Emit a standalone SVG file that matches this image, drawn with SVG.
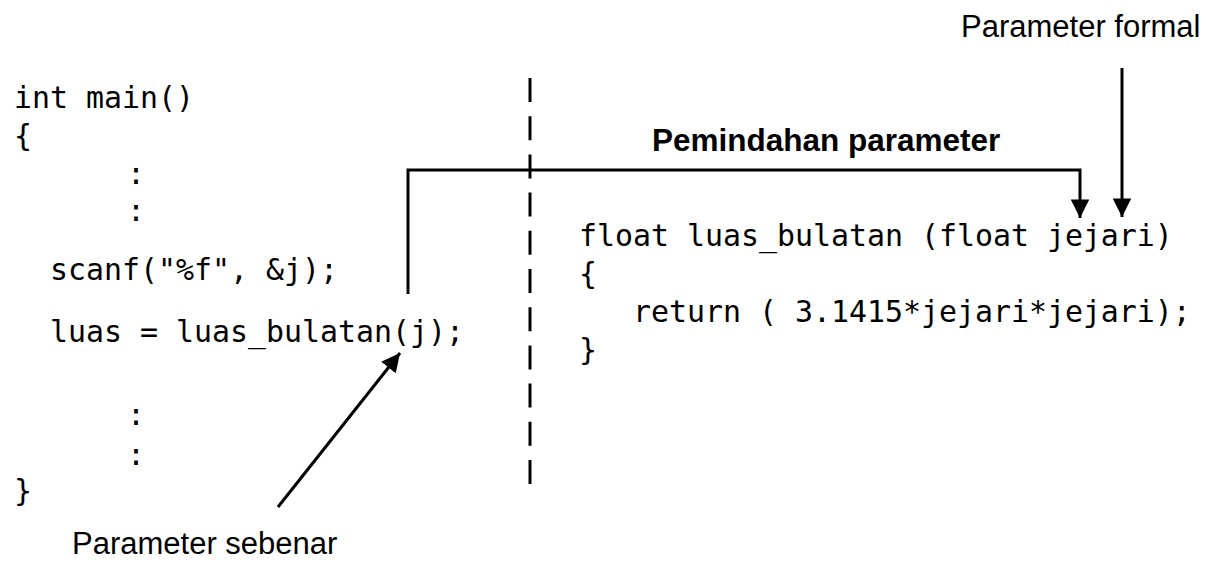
<svg xmlns="http://www.w3.org/2000/svg" width="1207" height="562" viewBox="0 0 1207 562">
  <style>
    .code { font-family: "DejaVu Sans Mono", "Liberation Mono", monospace; font-size: 29.9px; fill: #000; white-space: pre; }
    .label { font-family: "Liberation Sans", Arial, sans-serif; font-size: 31px; fill: #000; }
    .bold { font-weight: bold; font-size: 31.5px; }
    .wire { fill: none; stroke: #000; stroke-width: 3; }
    .divider { fill: none; stroke: #000; stroke-width: 3; stroke-dasharray: 24 14.2; }
  </style>
  <defs>
    <marker id="head" viewBox="0 0 10 10" refX="10" refY="5" markerWidth="6.2" markerHeight="6.2" markerUnits="strokeWidth" orient="auto">
      <path d="M0,0 L10,5 L0,10 Z" fill="#000"/>
    </marker>
  </defs>

  <!-- caller: main() -->
  <g id="main-func">
    <text class="code" x="14" y="108">int main()</text>
    <text class="code" x="14" y="146">{</text>
    <text class="code" x="127" y="184">:</text>
    <text class="code" x="127" y="221">:</text>
    <text class="code" x="14" y="280">  scanf("%f", &amp;j);</text>
    <text class="code" x="14" y="342">  luas = luas_bulatan(j);</text>
    <text class="code" x="127" y="425">:</text>
    <text class="code" x="127" y="465">:</text>
    <text class="code" x="14" y="501">}</text>
  </g>

  <!-- callee: luas_bulatan() -->
  <g id="luas-bulatan-func">
    <text class="code" x="579" y="246">float luas_bulatan (float jejari)</text>
    <text class="code" x="579" y="284">{</text>
    <text class="code" x="579" y="322">   return ( 3.1415*jejari*jejari);</text>
    <text class="code" x="579" y="360">}</text>
  </g>

  <!-- labels -->
  <g id="label-transfer">
    <text class="label bold" x="652" y="151">Pemindahan parameter</text>
  </g>
  <g id="label-formal">
    <text class="label" x="961" y="37">Parameter formal</text>
  </g>
  <g id="label-actual">
    <text class="label" x="72" y="554">Parameter sebenar</text>
  </g>

  <!-- divider between caller and callee -->
  <g id="divider">
    <line class="divider" x1="530" y1="78" x2="530" y2="484"/>
  </g>

  <!-- connectors -->
  <g id="connectors">
    <polyline class="wire" points="408,294 408,170 1080,170 1080,218" marker-end="url(#head)"/>
    <line class="wire" x1="1122" y1="68" x2="1122" y2="217" marker-end="url(#head)"/>
    <line class="wire" x1="278" y1="507" x2="400" y2="353" marker-end="url(#head)"/>
  </g>
</svg>
